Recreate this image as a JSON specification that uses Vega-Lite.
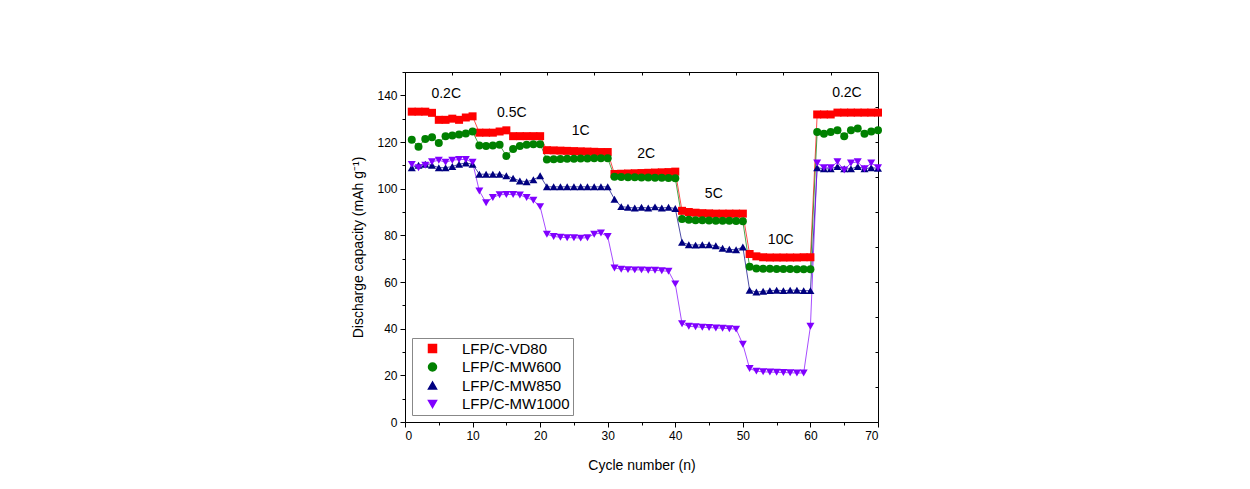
{
  "$schema": "https://vega.github.io/schema/vega-lite/v6.json",
  "width": 473,
  "height": 350,
  "autosize": {"type": "none"},
  "padding": {"left": 405, "top": 72, "right": 372, "bottom": 67},
  "background": "white",
  "config": {
    "view": {"stroke": null},
    "font": "Liberation Sans",
    "axis": {
      "grid": false,
      "domainColor": "black",
      "tickColor": "black",
      "labelColor": "black",
      "titleColor": "black",
      "labelFont": "Liberation Sans",
      "titleFont": "Liberation Sans",
      "labelFontSize": 12,
      "titleFontSize": 14,
      "titleFontWeight": "normal",
      "labelPadding": 3
    },
    "legend": {
      "strokeColor": "#888",
      "fillColor": "white",
      "padding": 3,
      "labelFont": "Liberation Sans",
      "labelFontSize": 15,
      "labelColor": "black",
      "symbolSize": 324,
      "symbolOffset": 10,
      "labelOffset": 22,
      "rowPadding": 2.5,
      "symbolOpacity": 1
    }
  },
  "datasets": {
    "cap": [
      {"series":"LFP/C-VD80","cycle":1,"cap":133},{"series":"LFP/C-VD80","cycle":2,"cap":133},{"series":"LFP/C-VD80","cycle":3,"cap":133},{"series":"LFP/C-VD80","cycle":4,"cap":132.5},{"series":"LFP/C-VD80","cycle":5,"cap":129.5},{"series":"LFP/C-VD80","cycle":6,"cap":129.5},{"series":"LFP/C-VD80","cycle":7,"cap":130},{"series":"LFP/C-VD80","cycle":8,"cap":129.5},{"series":"LFP/C-VD80","cycle":9,"cap":130.5},{"series":"LFP/C-VD80","cycle":10,"cap":131},
      {"series":"LFP/C-VD80","cycle":11,"cap":124},{"series":"LFP/C-VD80","cycle":12,"cap":124},{"series":"LFP/C-VD80","cycle":13,"cap":124},{"series":"LFP/C-VD80","cycle":14,"cap":124.5},{"series":"LFP/C-VD80","cycle":15,"cap":125},{"series":"LFP/C-VD80","cycle":16,"cap":122.5},{"series":"LFP/C-VD80","cycle":17,"cap":122.5},{"series":"LFP/C-VD80","cycle":18,"cap":122.5},{"series":"LFP/C-VD80","cycle":19,"cap":122.5},{"series":"LFP/C-VD80","cycle":20,"cap":122.5},
      {"series":"LFP/C-VD80","cycle":21,"cap":116.5},{"series":"LFP/C-VD80","cycle":22,"cap":116.4},{"series":"LFP/C-VD80","cycle":23,"cap":116.3},{"series":"LFP/C-VD80","cycle":24,"cap":116.2},{"series":"LFP/C-VD80","cycle":25,"cap":116.1},{"series":"LFP/C-VD80","cycle":26,"cap":116},{"series":"LFP/C-VD80","cycle":27,"cap":115.9},{"series":"LFP/C-VD80","cycle":28,"cap":115.8},{"series":"LFP/C-VD80","cycle":29,"cap":115.7},{"series":"LFP/C-VD80","cycle":30,"cap":115.7},
      {"series":"LFP/C-VD80","cycle":31,"cap":106.3},{"series":"LFP/C-VD80","cycle":32,"cap":106.4},{"series":"LFP/C-VD80","cycle":33,"cap":106.5},{"series":"LFP/C-VD80","cycle":34,"cap":106.6},{"series":"LFP/C-VD80","cycle":35,"cap":106.7},{"series":"LFP/C-VD80","cycle":36,"cap":106.8},{"series":"LFP/C-VD80","cycle":37,"cap":106.9},{"series":"LFP/C-VD80","cycle":38,"cap":107},{"series":"LFP/C-VD80","cycle":39,"cap":107.1},{"series":"LFP/C-VD80","cycle":40,"cap":107.3},
      {"series":"LFP/C-VD80","cycle":41,"cap":90.5},{"series":"LFP/C-VD80","cycle":42,"cap":90},{"series":"LFP/C-VD80","cycle":43,"cap":89.7},{"series":"LFP/C-VD80","cycle":44,"cap":89.5},{"series":"LFP/C-VD80","cycle":45,"cap":89.4},{"series":"LFP/C-VD80","cycle":46,"cap":89.3},{"series":"LFP/C-VD80","cycle":47,"cap":89.3},{"series":"LFP/C-VD80","cycle":48,"cap":89.3},{"series":"LFP/C-VD80","cycle":49,"cap":89.3},{"series":"LFP/C-VD80","cycle":50,"cap":89.3},
      {"series":"LFP/C-VD80","cycle":51,"cap":72},{"series":"LFP/C-VD80","cycle":52,"cap":71},{"series":"LFP/C-VD80","cycle":53,"cap":70.6},{"series":"LFP/C-VD80","cycle":54,"cap":70.5},{"series":"LFP/C-VD80","cycle":55,"cap":70.5},{"series":"LFP/C-VD80","cycle":56,"cap":70.5},{"series":"LFP/C-VD80","cycle":57,"cap":70.5},{"series":"LFP/C-VD80","cycle":58,"cap":70.5},{"series":"LFP/C-VD80","cycle":59,"cap":70.6},{"series":"LFP/C-VD80","cycle":60,"cap":70.6},
      {"series":"LFP/C-VD80","cycle":61,"cap":131.8},{"series":"LFP/C-VD80","cycle":62,"cap":131.8},{"series":"LFP/C-VD80","cycle":63,"cap":131.8},{"series":"LFP/C-VD80","cycle":64,"cap":132.6},{"series":"LFP/C-VD80","cycle":65,"cap":132.6},{"series":"LFP/C-VD80","cycle":66,"cap":132.6},{"series":"LFP/C-VD80","cycle":67,"cap":132.6},{"series":"LFP/C-VD80","cycle":68,"cap":132.6},{"series":"LFP/C-VD80","cycle":69,"cap":132.6},{"series":"LFP/C-VD80","cycle":70,"cap":132.6},

      {"series":"LFP/C-MW600","cycle":1,"cap":121},{"series":"LFP/C-MW600","cycle":2,"cap":118},{"series":"LFP/C-MW600","cycle":3,"cap":121.3},{"series":"LFP/C-MW600","cycle":4,"cap":122},{"series":"LFP/C-MW600","cycle":5,"cap":119.6},{"series":"LFP/C-MW600","cycle":6,"cap":122.5},{"series":"LFP/C-MW600","cycle":7,"cap":122.8},{"series":"LFP/C-MW600","cycle":8,"cap":123.2},{"series":"LFP/C-MW600","cycle":9,"cap":123.6},{"series":"LFP/C-MW600","cycle":10,"cap":124.5},
      {"series":"LFP/C-MW600","cycle":11,"cap":118.5},{"series":"LFP/C-MW600","cycle":12,"cap":118.3},{"series":"LFP/C-MW600","cycle":13,"cap":118.5},{"series":"LFP/C-MW600","cycle":14,"cap":118.8},{"series":"LFP/C-MW600","cycle":15,"cap":114},{"series":"LFP/C-MW600","cycle":16,"cap":117},{"series":"LFP/C-MW600","cycle":17,"cap":118.3},{"series":"LFP/C-MW600","cycle":18,"cap":118.8},{"series":"LFP/C-MW600","cycle":19,"cap":119},{"series":"LFP/C-MW600","cycle":20,"cap":119},
      {"series":"LFP/C-MW600","cycle":21,"cap":112.5},{"series":"LFP/C-MW600","cycle":22,"cap":112.6},{"series":"LFP/C-MW600","cycle":23,"cap":112.7},{"series":"LFP/C-MW600","cycle":24,"cap":112.8},{"series":"LFP/C-MW600","cycle":25,"cap":112.8},{"series":"LFP/C-MW600","cycle":26,"cap":112.9},{"series":"LFP/C-MW600","cycle":27,"cap":112.9},{"series":"LFP/C-MW600","cycle":28,"cap":113},{"series":"LFP/C-MW600","cycle":29,"cap":113},{"series":"LFP/C-MW600","cycle":30,"cap":113},
      {"series":"LFP/C-MW600","cycle":31,"cap":105.1},{"series":"LFP/C-MW600","cycle":32,"cap":105},{"series":"LFP/C-MW600","cycle":33,"cap":104.9},{"series":"LFP/C-MW600","cycle":34,"cap":104.9},{"series":"LFP/C-MW600","cycle":35,"cap":104.8},{"series":"LFP/C-MW600","cycle":36,"cap":104.8},{"series":"LFP/C-MW600","cycle":37,"cap":104.7},{"series":"LFP/C-MW600","cycle":38,"cap":104.7},{"series":"LFP/C-MW600","cycle":39,"cap":104.6},{"series":"LFP/C-MW600","cycle":40,"cap":104.5},
      {"series":"LFP/C-MW600","cycle":41,"cap":87},{"series":"LFP/C-MW600","cycle":42,"cap":86.7},{"series":"LFP/C-MW600","cycle":43,"cap":86.5},{"series":"LFP/C-MW600","cycle":44,"cap":86.5},{"series":"LFP/C-MW600","cycle":45,"cap":86.4},{"series":"LFP/C-MW600","cycle":46,"cap":86.3},{"series":"LFP/C-MW600","cycle":47,"cap":86.2},{"series":"LFP/C-MW600","cycle":48,"cap":86.2},{"series":"LFP/C-MW600","cycle":49,"cap":86.1},{"series":"LFP/C-MW600","cycle":50,"cap":86},
      {"series":"LFP/C-MW600","cycle":51,"cap":66.5},{"series":"LFP/C-MW600","cycle":52,"cap":65.8},{"series":"LFP/C-MW600","cycle":53,"cap":65.7},{"series":"LFP/C-MW600","cycle":54,"cap":65.7},{"series":"LFP/C-MW600","cycle":55,"cap":65.6},{"series":"LFP/C-MW600","cycle":56,"cap":65.6},{"series":"LFP/C-MW600","cycle":57,"cap":65.6},{"series":"LFP/C-MW600","cycle":58,"cap":65.5},{"series":"LFP/C-MW600","cycle":59,"cap":65.5},{"series":"LFP/C-MW600","cycle":60,"cap":65.5},
      {"series":"LFP/C-MW600","cycle":61,"cap":124.3},{"series":"LFP/C-MW600","cycle":62,"cap":123.5},{"series":"LFP/C-MW600","cycle":63,"cap":124.3},{"series":"LFP/C-MW600","cycle":64,"cap":125},{"series":"LFP/C-MW600","cycle":65,"cap":122.5},{"series":"LFP/C-MW600","cycle":66,"cap":125},{"series":"LFP/C-MW600","cycle":67,"cap":125.8},{"series":"LFP/C-MW600","cycle":68,"cap":123.5},{"series":"LFP/C-MW600","cycle":69,"cap":124.5},{"series":"LFP/C-MW600","cycle":70,"cap":125},

      {"series":"LFP/C-MW850","cycle":1,"cap":109},{"series":"LFP/C-MW850","cycle":2,"cap":110},{"series":"LFP/C-MW850","cycle":3,"cap":110.5},{"series":"LFP/C-MW850","cycle":4,"cap":110},{"series":"LFP/C-MW850","cycle":5,"cap":109},{"series":"LFP/C-MW850","cycle":6,"cap":109},{"series":"LFP/C-MW850","cycle":7,"cap":109.5},{"series":"LFP/C-MW850","cycle":8,"cap":110.5},{"series":"LFP/C-MW850","cycle":9,"cap":111},{"series":"LFP/C-MW850","cycle":10,"cap":110.5},
      {"series":"LFP/C-MW850","cycle":11,"cap":106.2},{"series":"LFP/C-MW850","cycle":12,"cap":106.2},{"series":"LFP/C-MW850","cycle":13,"cap":106.2},{"series":"LFP/C-MW850","cycle":14,"cap":106.2},{"series":"LFP/C-MW850","cycle":15,"cap":105.5},{"series":"LFP/C-MW850","cycle":16,"cap":104.5},{"series":"LFP/C-MW850","cycle":17,"cap":103.3},{"series":"LFP/C-MW850","cycle":18,"cap":103},{"series":"LFP/C-MW850","cycle":19,"cap":103.8},{"series":"LFP/C-MW850","cycle":20,"cap":105.5},
      {"series":"LFP/C-MW850","cycle":21,"cap":100.8},{"series":"LFP/C-MW850","cycle":22,"cap":100.8},{"series":"LFP/C-MW850","cycle":23,"cap":100.8},{"series":"LFP/C-MW850","cycle":24,"cap":100.8},{"series":"LFP/C-MW850","cycle":25,"cap":100.8},{"series":"LFP/C-MW850","cycle":26,"cap":100.8},{"series":"LFP/C-MW850","cycle":27,"cap":100.8},{"series":"LFP/C-MW850","cycle":28,"cap":100.8},{"series":"LFP/C-MW850","cycle":29,"cap":100.8},{"series":"LFP/C-MW850","cycle":30,"cap":100.8},
      {"series":"LFP/C-MW850","cycle":31,"cap":95.5},{"series":"LFP/C-MW850","cycle":32,"cap":92.3},{"series":"LFP/C-MW850","cycle":33,"cap":92},{"series":"LFP/C-MW850","cycle":34,"cap":91.7},{"series":"LFP/C-MW850","cycle":35,"cap":92},{"series":"LFP/C-MW850","cycle":36,"cap":91.7},{"series":"LFP/C-MW850","cycle":37,"cap":92.2},{"series":"LFP/C-MW850","cycle":38,"cap":91.7},{"series":"LFP/C-MW850","cycle":39,"cap":92},{"series":"LFP/C-MW850","cycle":40,"cap":91.5},
      {"series":"LFP/C-MW850","cycle":41,"cap":77},{"series":"LFP/C-MW850","cycle":42,"cap":76},{"series":"LFP/C-MW850","cycle":43,"cap":75.8},{"series":"LFP/C-MW850","cycle":44,"cap":76},{"series":"LFP/C-MW850","cycle":45,"cap":76},{"series":"LFP/C-MW850","cycle":46,"cap":75.5},{"series":"LFP/C-MW850","cycle":47,"cap":74.5},{"series":"LFP/C-MW850","cycle":48,"cap":74},{"series":"LFP/C-MW850","cycle":49,"cap":73.8},{"series":"LFP/C-MW850","cycle":50,"cap":75},
      {"series":"LFP/C-MW850","cycle":51,"cap":56.5},{"series":"LFP/C-MW850","cycle":52,"cap":55.7},{"series":"LFP/C-MW850","cycle":53,"cap":56},{"series":"LFP/C-MW850","cycle":54,"cap":56.3},{"series":"LFP/C-MW850","cycle":55,"cap":56.5},{"series":"LFP/C-MW850","cycle":56,"cap":56.3},{"series":"LFP/C-MW850","cycle":57,"cap":56.5},{"series":"LFP/C-MW850","cycle":58,"cap":56.5},{"series":"LFP/C-MW850","cycle":59,"cap":56.3},{"series":"LFP/C-MW850","cycle":60,"cap":56.3},
      {"series":"LFP/C-MW850","cycle":61,"cap":109},{"series":"LFP/C-MW850","cycle":62,"cap":108.5},{"series":"LFP/C-MW850","cycle":63,"cap":108.5},{"series":"LFP/C-MW850","cycle":64,"cap":109.5},{"series":"LFP/C-MW850","cycle":65,"cap":108.5},{"series":"LFP/C-MW850","cycle":66,"cap":108.5},{"series":"LFP/C-MW850","cycle":67,"cap":109.5},{"series":"LFP/C-MW850","cycle":68,"cap":108.5},{"series":"LFP/C-MW850","cycle":69,"cap":109},{"series":"LFP/C-MW850","cycle":70,"cap":108.7},

      {"series":"LFP/C-MW1000","cycle":1,"cap":110.4},{"series":"LFP/C-MW1000","cycle":2,"cap":109},{"series":"LFP/C-MW1000","cycle":3,"cap":110},{"series":"LFP/C-MW1000","cycle":4,"cap":111.5},{"series":"LFP/C-MW1000","cycle":5,"cap":112.2},{"series":"LFP/C-MW1000","cycle":6,"cap":111.3},{"series":"LFP/C-MW1000","cycle":7,"cap":112.2},{"series":"LFP/C-MW1000","cycle":8,"cap":112.5},{"series":"LFP/C-MW1000","cycle":9,"cap":112.5},{"series":"LFP/C-MW1000","cycle":10,"cap":111.3},
      {"series":"LFP/C-MW1000","cycle":11,"cap":99},{"series":"LFP/C-MW1000","cycle":12,"cap":94},{"series":"LFP/C-MW1000","cycle":13,"cap":96.2},{"series":"LFP/C-MW1000","cycle":14,"cap":97.4},{"series":"LFP/C-MW1000","cycle":15,"cap":97.5},{"series":"LFP/C-MW1000","cycle":16,"cap":97.5},{"series":"LFP/C-MW1000","cycle":17,"cap":97.3},{"series":"LFP/C-MW1000","cycle":18,"cap":96.2},{"series":"LFP/C-MW1000","cycle":19,"cap":95},{"series":"LFP/C-MW1000","cycle":20,"cap":92.3},
      {"series":"LFP/C-MW1000","cycle":21,"cap":80.5},{"series":"LFP/C-MW1000","cycle":22,"cap":79.5},{"series":"LFP/C-MW1000","cycle":23,"cap":79.2},{"series":"LFP/C-MW1000","cycle":24,"cap":79},{"series":"LFP/C-MW1000","cycle":25,"cap":79},{"series":"LFP/C-MW1000","cycle":26,"cap":78.8},{"series":"LFP/C-MW1000","cycle":27,"cap":79},{"series":"LFP/C-MW1000","cycle":28,"cap":80.5},{"series":"LFP/C-MW1000","cycle":29,"cap":81},{"series":"LFP/C-MW1000","cycle":30,"cap":79.5},
      {"series":"LFP/C-MW1000","cycle":31,"cap":66},{"series":"LFP/C-MW1000","cycle":32,"cap":65.5},{"series":"LFP/C-MW1000","cycle":33,"cap":65.3},{"series":"LFP/C-MW1000","cycle":34,"cap":65.2},{"series":"LFP/C-MW1000","cycle":35,"cap":65.2},{"series":"LFP/C-MW1000","cycle":36,"cap":65},{"series":"LFP/C-MW1000","cycle":37,"cap":65},{"series":"LFP/C-MW1000","cycle":38,"cap":64.8},{"series":"LFP/C-MW1000","cycle":39,"cap":64.6},{"series":"LFP/C-MW1000","cycle":40,"cap":59.2},
      {"series":"LFP/C-MW1000","cycle":41,"cap":42.1},{"series":"LFP/C-MW1000","cycle":42,"cap":41},{"series":"LFP/C-MW1000","cycle":43,"cap":40.8},{"series":"LFP/C-MW1000","cycle":44,"cap":40.6},{"series":"LFP/C-MW1000","cycle":45,"cap":40.5},{"series":"LFP/C-MW1000","cycle":46,"cap":40.3},{"series":"LFP/C-MW1000","cycle":47,"cap":40.2},{"series":"LFP/C-MW1000","cycle":48,"cap":40},{"series":"LFP/C-MW1000","cycle":49,"cap":39.8},{"series":"LFP/C-MW1000","cycle":50,"cap":33.3},
      {"series":"LFP/C-MW1000","cycle":51,"cap":22.9},{"series":"LFP/C-MW1000","cycle":52,"cap":21.8},{"series":"LFP/C-MW1000","cycle":53,"cap":21.5},{"series":"LFP/C-MW1000","cycle":54,"cap":21.4},{"series":"LFP/C-MW1000","cycle":55,"cap":21.3},{"series":"LFP/C-MW1000","cycle":56,"cap":21.2},{"series":"LFP/C-MW1000","cycle":57,"cap":21.1},{"series":"LFP/C-MW1000","cycle":58,"cap":21},{"series":"LFP/C-MW1000","cycle":59,"cap":21},{"series":"LFP/C-MW1000","cycle":60,"cap":41},
      {"series":"LFP/C-MW1000","cycle":61,"cap":111},{"series":"LFP/C-MW1000","cycle":62,"cap":109},{"series":"LFP/C-MW1000","cycle":63,"cap":109},{"series":"LFP/C-MW1000","cycle":64,"cap":111.5},{"series":"LFP/C-MW1000","cycle":65,"cap":108},{"series":"LFP/C-MW1000","cycle":66,"cap":111},{"series":"LFP/C-MW1000","cycle":67,"cap":111.5},{"series":"LFP/C-MW1000","cycle":68,"cap":108.5},{"series":"LFP/C-MW1000","cycle":69,"cap":111},{"series":"LFP/C-MW1000","cycle":70,"cap":109}
    ],
    "labels": [
      {"label":"0.2C","cycle":6.1,"cap":140.4},
      {"label":"0.5C","cycle":15.8,"cap":132.3},
      {"label":"1C","cycle":26,"cap":124.6},
      {"label":"2C","cycle":35.7,"cap":114.8},
      {"label":"5C","cycle":45.7,"cap":97.7},
      {"label":"10C","cycle":55.6,"cap":78.1},
      {"label":"0.2C","cycle":65.4,"cap":140.8}
    ]
  },
  "layer": [
    {
      "data": {"name": "cap"},
      "mark": {"type": "line", "strokeWidth": 1, "opacity": 0.7},
      "encoding": {
        "x": {"field": "cycle", "type": "quantitative", "scale": {"domain": [0, 70], "nice": false},
              "axis": {"orient": "bottom", "values": [0,10,20,30,40,50,60,70], "tickSize": 5, "title": "Cycle number (n)", "titlePadding": 17}},
        "y": {"field": "cap", "type": "quantitative", "scale": {"domain": [0, 150], "nice": false},
              "axis": {"orient": "left", "values": [0,20,40,60,80,100,120,140], "tickSize": 5, "title": "Discharge capacity (mAh g⁻¹)", "titlePadding": 11}},
        "color": {"field": "series", "type": "nominal",
                  "scale": {"domain": ["LFP/C-VD80","LFP/C-MW600","LFP/C-MW850","LFP/C-MW1000"], "range": ["#FF0000","#008000","#000080","#8000FF"]},
                  "legend": {"title": null, "orient": "bottom-left", "offset": 7}},
        "order": {"field": "cycle", "type": "quantitative"}
      }
    },
    {
      "data": {"name": "cap"},
      "mark": {"type": "point", "opacity": 0},
      "encoding": {
        "x": {"field": "cycle", "type": "quantitative", "scale": {"domain": [0, 70], "nice": false},
              "axis": {"orient": "bottom", "values": [5,15,25,35,45,55,65], "tickSize": 3, "labels": false, "domain": false, "title": null}},
        "y": {"field": "cap", "type": "quantitative", "scale": {"domain": [0, 150], "nice": false},
              "axis": {"orient": "left", "values": [10,30,50,70,90,110,130,150], "tickSize": 3, "labels": false, "domain": false, "title": null}}
      }
    },
    {
      "data": {"name": "cap"},
      "mark": {"type": "point", "opacity": 0},
      "encoding": {
        "x": {"field": "cycle", "type": "quantitative", "scale": {"domain": [0, 70], "nice": false},
              "axis": {"orient": "top", "values": [0,7,14,21,28,35,42,49,56,63,70], "tickSize": -3, "labels": false, "title": null}},
        "y": {"field": "cap", "type": "quantitative", "scale": {"domain": [0, 150], "nice": false},
              "axis": {"orient": "right", "values": [0,15,30,45,60,75,90,105,120,135,150], "tickSize": -3, "labels": false, "title": null}}
      }
    },
    {
      "data": {"name": "cap"},
      "mark": {"type": "point", "filled": true, "opacity": 1},
      "encoding": {
        "x": {"field": "cycle", "type": "quantitative", "scale": {"domain": [0, 70], "nice": false}, "axis": null},
        "y": {"field": "cap", "type": "quantitative", "scale": {"domain": [0, 150], "nice": false}, "axis": null},
        "color": {"field": "series", "type": "nominal",
                  "scale": {"domain": ["LFP/C-VD80","LFP/C-MW600","LFP/C-MW850","LFP/C-MW1000"], "range": ["#FF0000","#008000","#000080","#8000FF"]},
                  "legend": {"title": null, "orient": "bottom-left", "offset": 7}},
        "shape": {"field": "series", "type": "nominal",
                  "scale": {"domain": ["LFP/C-VD80","LFP/C-MW600","LFP/C-MW850","LFP/C-MW1000"], "range": ["square","circle","triangle-up","triangle-down"]},
                  "legend": {"title": null, "orient": "bottom-left", "offset": 7}},
        "size": {"field": "series", "type": "nominal",
                 "scale": {"domain": ["LFP/C-VD80","LFP/C-MW600","LFP/C-MW850","LFP/C-MW1000"], "range": [64, 64, 105, 105]},
                 "legend": null}
      }
    },
    {
      "data": {"name": "labels"},
      "mark": {"type": "text", "fontSize": 14, "font": "Liberation Sans", "color": "black", "baseline": "middle", "align": "center"},
      "encoding": {
        "x": {"field": "cycle", "type": "quantitative", "scale": {"domain": [0, 70], "nice": false}, "axis": null},
        "y": {"field": "cap", "type": "quantitative", "scale": {"domain": [0, 150], "nice": false}, "axis": null},
        "text": {"field": "label", "type": "nominal"}
      }
    }
  ],
  "resolve": {"scale": {"x": "independent", "y": "independent"}}
}
